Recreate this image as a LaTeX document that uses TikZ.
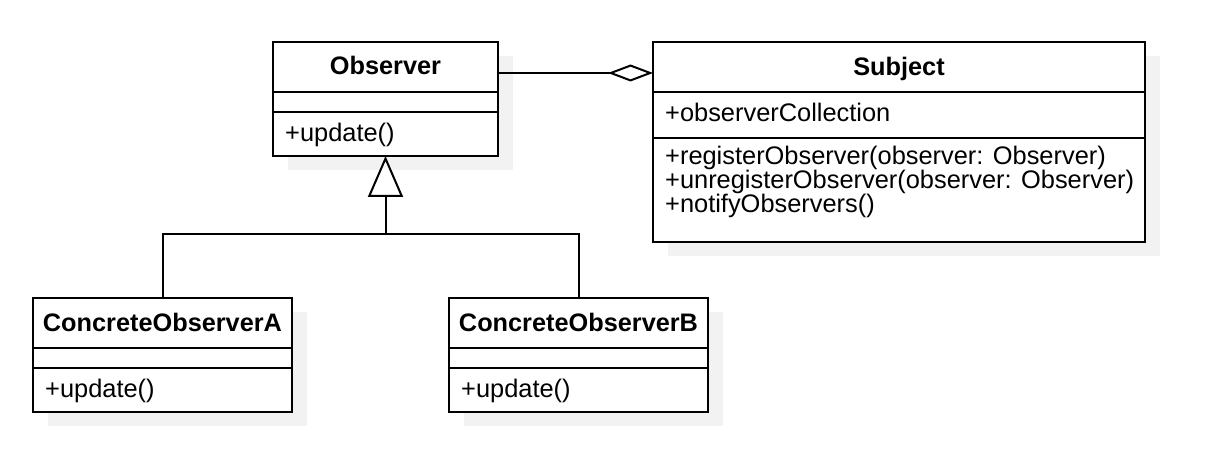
\documentclass[tikz,border=0pt]{standalone}
\usepackage{fontspec}
\setmainfont{Liberation Sans}
\usetikzlibrary{arrows.meta,shadows}
\begin{document}
\begin{tikzpicture}[x=1pt,y=-1pt,
  umlbox/.style={draw, line width=2pt, fill=white, rectangle, anchor=north west,
    inner sep=0pt, outer sep=0pt,
    drop shadow={shadow xshift=14.5pt, shadow yshift=-14pt, fill=gray!10, opacity=1, draw=none}},
  umltitle/.style={anchor=base, inner sep=0pt, font=\bfseries\fontsize{25.3}{30}\selectfont},
  member/.style={anchor=base west, inner sep=0pt, font=\fontsize{25.4}{30}\selectfont},
  sepline/.style={line width=2pt},
  conn/.style={line width=2pt}
]
\useasboundingbox[fill=white] (0,0) rectangle (1212,470);

% boxes
\node[umlbox, minimum width=225pt, minimum height=114pt] (obs) at (273,42) {};
\node[umlbox, minimum width=492pt, minimum height=200pt] (subj) at (653,42) {};
\node[umlbox, minimum width=259pt, minimum height=114pt] (coA) at (33,298) {};
\node[umlbox, minimum width=259pt, minimum height=114pt] (coB) at (449,298) {};

% compartment lines
\draw[sepline] ([yshift=-50pt]obs.north west) -- ([yshift=-50pt]obs.north east);
\draw[sepline] ([yshift=-70pt]obs.north west) -- ([yshift=-70pt]obs.north east);
\draw[sepline] ([yshift=-50pt]subj.north west) -- ([yshift=-50pt]subj.north east);
\draw[sepline] ([yshift=-96pt]subj.north west) -- ([yshift=-96pt]subj.north east);
\draw[sepline] ([yshift=-50pt]coA.north west) -- ([yshift=-50pt]coA.north east);
\draw[sepline] ([yshift=-70pt]coA.north west) -- ([yshift=-70pt]coA.north east);
\draw[sepline] ([yshift=-50pt]coB.north west) -- ([yshift=-50pt]coB.north east);
\draw[sepline] ([yshift=-70pt]coB.north west) -- ([yshift=-70pt]coB.north east);

% texts
\node[umltitle] (obsT) at (385.5,75) {Observer};
\node[member] (obsM) at (285,142) {+update()};

\node[umltitle] (subjT) at (899,75.5) {Subject};
\node[member] (subjA) at (665,122) {+observerCollection};
\node[member] (subjM1) at (665,165) {+registerObserver(observer: Observer)};
\node[member] (subjM2) at (665,189) {+unregisterObserver(observer: Observer)};
\node[member] (subjM3) at (665,213) {+notifyObservers()};

\node[umltitle] (coAT) at (162.5,331.5) {ConcreteObserverA};
\node[member] (coAM) at (45,397) {+update()};
\node[umltitle] (coBT) at (578.5,331.5) {ConcreteObserverB};
\node[member] (coBM) at (461,397) {+update()};

% aggregation
\draw[conn, -{Diamond[open, length=45pt, width=17pt, line width=2pt, fill=white]}]
  ([yshift=-31pt]obs.north east) -- ([yshift=-31pt]subj.north west);

% generalization
\coordinate (j) at (obs.south |- 0,234);
\draw[conn] (coA.north) |- (j) -| (coB.north);
\draw[conn, -{Triangle[open, length=41pt, width=35pt, line width=2pt, fill=white]}] (j) -- (obs.south);
\end{tikzpicture}
\end{document}
